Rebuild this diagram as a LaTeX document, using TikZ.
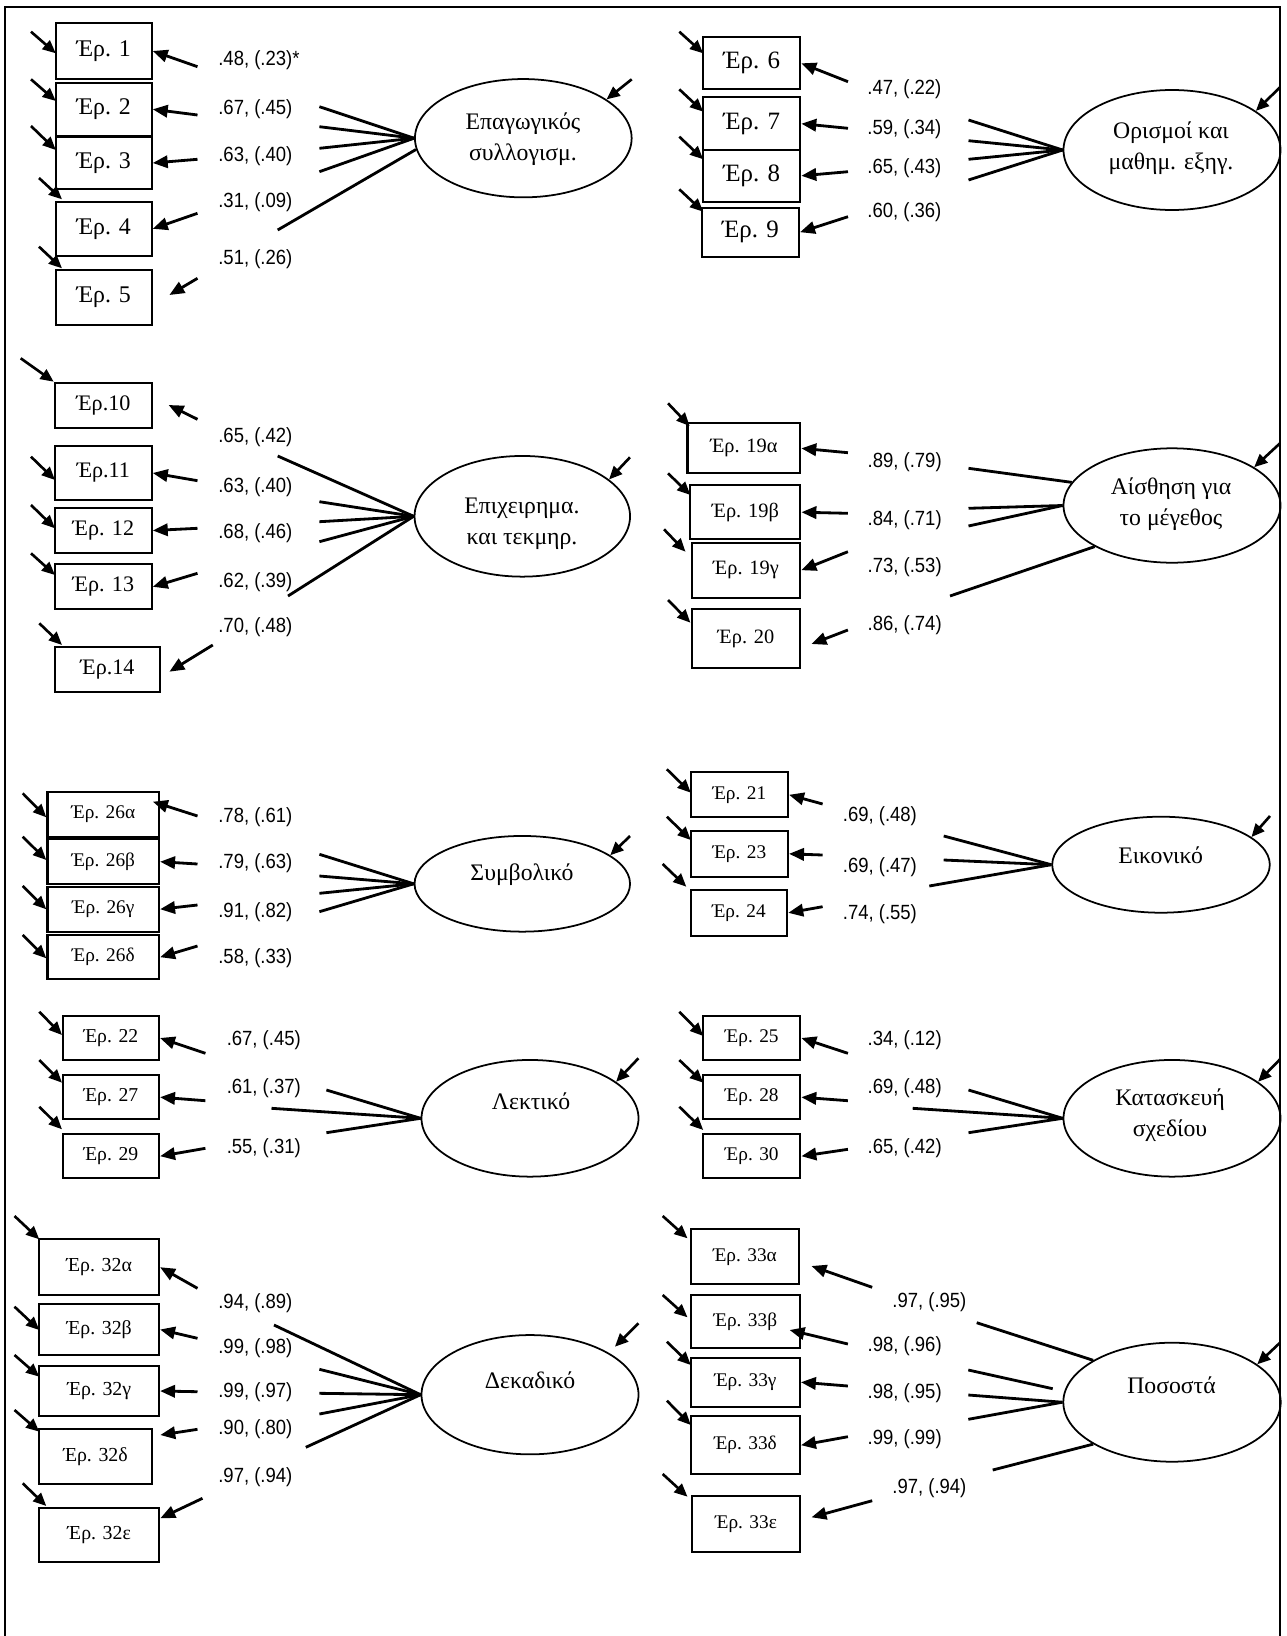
\documentclass[tikz,border=0pt]{standalone}
\usepackage{fontspec}
\setmainfont{Liberation Serif}
\newfontfamily\lblfont[FakeStretch=0.9]{Liberation Sans}
\usetikzlibrary{shapes.geometric,arrows.meta}
\newcommand\mkbox[7]{\node[bx, minimum width=#4*0.02cm, minimum height=#5*0.02cm, font=\fontsize{#6pt}{#6pt}\selectfont] (#1) at (#2,#3) {#7};}
\newcommand\mkell[5]{\node[lat, minimum width=#4*0.02cm, minimum height=#5*0.02cm] (#1) at (#2,#3) {};}
\newcommand\mklab[4]{\node[lbl] (#1) at (#2,#3) {#4};}
\newcommand\mkld[4]{\coordinate (#1) at (#2,#3); \draw[ld] (#1) -- (#4);}
\newcommand\mkln[4]{\coordinate (#1) at (#2,#3); \draw[ln] (#1) -- (#4);}
\newcommand\mkerr[5]{\coordinate (#1s) at (#2,#3); \coordinate (#1t) at (#4,#5); \draw[er] (#1s) -- (#1t);}
\newcommand\mkpt[3]{\coordinate (#1) at (#2,#3);}
\begin{document}
\begin{tikzpicture}[x=0.02cm,y=-0.02cm,
  bx/.style={draw, line width=1.2pt, inner sep=0pt, align=center},
  lat/.style={draw, ellipse, line width=1pt, inner sep=0pt},
  lattxt/.style={align=center, font=\fontsize{13.5pt}{17.5pt}\selectfont, inner sep=0pt},
  lbl/.style={anchor=west, inner sep=0pt, font=\lblfont\fontsize{11.7pt}{14pt}\selectfont},
  ld/.style={line width=1.6pt, -{Triangle[length=8.5pt,width=7pt]}},
  ln/.style={line width=1.6pt},
  er/.style={line width=1.5pt, -{Triangle[length=7.5pt,width=6.5pt]}}
]
\useasboundingbox (0,0) rectangle (1286,1636);
\draw[line width=1.2pt] (5,1636) -- (5,7) -- (1280,7) -- (1280,1636);

% ---------- Group 1
\mkbox{b1}{103.7}{51}{96}{56.6}{13.6}{Έρ. 1}
\mkbox{b2}{103.7}{109.3}{96}{53.3}{13.6}{Έρ. 2}
\mkbox{b3}{103.7}{163}{96}{52}{13.6}{Έρ. 3}
\mkbox{b4}{103.7}{228.8}{96}{54.3}{13.6}{Έρ. 4}
\mkbox{b5}{103.7}{297.5}{96}{55}{13.6}{Έρ. 5}
\mklab{l1}{218}{60}{.48, (.23)*}
\mklab{l2}{218}{109}{.67, (.45)}
\mklab{l3}{218}{155.7}{.63, (.40)}
\mklab{l4}{218}{201.7}{.31, (.09)}
\mklab{l5}{218}{259.3}{.51, (.26)}
\mkld{a1}{197.5}{66.7}{b1.east}
\mkld{a2}{197.5}{115}{b2.east}
\mkld{a3}{197.5}{159.3}{b3.east}
\mkld{a4}{197.5}{213.3}{b4.east}
\mkpt{a5t}{169.4}{295}
\mkld{a5}{197.5}{278.3}{a5t}
\mkell{f1}{523.3}{138.2}{216.7}{118.3}
\node[lattxt] (t1) at (523,139) {Επαγωγικός\\συλλογισμ.};
\mkln{m1a}{319.4}{106.7}{f1.west}
\mkln{m1b}{319.4}{126.7}{f1.west}
\mkln{m1c}{319.4}{148.3}{f1.west}
\mkln{m1d}{319.4}{171.7}{f1.west}
\mkln{m1e}{277.7}{230}{f1.186}
\mkpt{z1s}{631.7}{79.3}
\draw[er] (z1s) -- (f1.25);
\mkerr{e1}{31}{31.7}{55.8}{53.3}
\mkerr{e2}{31}{79.3}{55.8}{101}
\mkerr{e3}{31}{126}{55.8}{150}
\mkerr{e4}{39}{178}{62}{199.3}
\mkerr{e5}{39}{246.7}{62}{268.3}

% ---------- Group 2
\mkbox{b6}{751.8}{63.3}{97}{52}{14.2}{Έρ. 6}
\mkbox{b7}{751.8}{123.7}{97}{52.7}{14.2}{Έρ. 7}
\mkbox{b8}{751.8}{175.8}{97}{51.7}{14.2}{Έρ. 8}
\mkbox{b9}{750.5}{232.2}{97}{49}{14.2}{Έρ. 9}
\mklab{l6}{867}{89.3}{.47, (.22)}
\mklab{l7}{867}{129.3}{.59, (.34)}
\mklab{l8}{867}{168.3}{.65, (.43)}
\mklab{l9}{867}{211.7}{.60, (.36)}
\mkld{a6}{848}{81.7}{b6.east}
\mkld{a7}{848}{128.3}{b7.east}
\mkld{a8}{848}{171.7}{b8.east}
\mkld{a9}{848}{216.7}{b9.east}
\mkell{f2}{1172}{150}{217}{120}
\node[lattxt] (t2) at (1171,148) {Ορισμοί και\\μαθημ. εξηγ.};
\mkln{m2a}{968.5}{120}{f2.west}
\mkln{m2b}{968.5}{140.7}{f2.west}
\mkln{m2c}{968.5}{159.3}{f2.west}
\mkln{m2d}{968.5}{180}{f2.west}
\mkpt{z2s}{1280}{87.3}
\draw[er] (z2s) -- (f2.25);
\mkerr{e6}{679.3}{31.7}{703.2}{53.3}
\mkerr{e7}{679.3}{89.3}{703.2}{111.7}
\mkerr{e8}{679.3}{136.7}{703.2}{159.3}
\mkerr{e9}{679.3}{189.3}{703.2}{211.7}

% ---------- Group 3
\mkbox{b10}{103.4}{405.5}{96.7}{45.6}{12.6}{Έρ.10}
\mkbox{b11}{103.4}{473}{96.7}{54}{12.6}{Έρ.11}
\mkbox{b12}{103.4}{530.5}{96.7}{44.4}{12.6}{Έρ. 12}
\mkbox{b13}{103.4}{586.8}{96.7}{45}{12.6}{Έρ. 13}
\mkbox{b14}{107.5}{669.2}{105}{45}{12.6}{Έρ.14}
\mklab{l10}{218}{436.7}{.65, (.42)}
\mklab{l11}{218}{486.7}{.63, (.40)}
\mklab{l12}{218}{533.3}{.68, (.46)}
\mklab{l13}{218}{581.7}{.62, (.39)}
\mklab{l14}{218}{626.7}{.70, (.48)}
\mkpt{a10t}{168.6}{405}
\mkld{a10}{197.5}{419.3}{a10t}
\mkld{a11}{197.5}{480.7}{b11.east}
\mkld{a12}{197.5}{528.3}{b12.east}
\mkld{a13}{197.5}{573.3}{b13.east}
\mkpt{a14t}{169.4}{671.7}
\mkld{a14}{212.8}{645}{a14t}
\mkell{f3}{522.3}{516.3}{215.5}{120.7}
\node[lattxt] (t3) at (522,524) {Επιχειρημα.\\και τεκμηρ.};
\mkln{m3a}{277.7}{456}{f3.west}
\mkln{m3b}{319.4}{501.7}{f3.west}
\mkln{m3c}{319.4}{521.7}{f3.west}
\mkln{m3d}{319.4}{541.7}{f3.west}
\mkln{m3e}{288}{596}{f3.west}
\mkpt{z3s}{630}{457.3}
\draw[er] (z3s) -- (f3.23);
\mkerr{e10}{20.7}{358.3}{53.7}{381.7}
\mkerr{e11}{31}{456.7}{55}{480}
\mkerr{e12}{31}{505}{55}{528.3}
\mkerr{e13}{31}{553.3}{55}{575}
\mkerr{e14}{39.3}{623.3}{62}{645}

% ---------- Group 4
\mkbox{b19a}{743.9}{448.3}{112.8}{50}{11.6}{Έρ. 19α}
\mkbox{b19b}{745.4}{512.2}{110}{54.3}{11.6}{Έρ. 19β}
\mkbox{b19c}{746}{570.2}{108.6}{55}{11.6}{Έρ. 19γ}
\mkbox{b20}{746}{638.8}{108.6}{59}{11.6}{Έρ. 20}
\mklab{l19a}{867.3}{461.7}{.89, (.79)}
\mklab{l19b}{867.3}{520}{.84, (.71)}
\mklab{l19c}{867.3}{566.7}{.73, (.53)}
\mklab{l20}{867.3}{625}{.86, (.74)}
\mkld{a19a}{847.9}{452.7}{b19a.east}
\mkld{a19b}{847.9}{513.3}{b19b.east}
\mkld{a19c}{847.9}{551.7}{b19c.east}
\mkpt{a20t}{811.5}{644}
\mkld{a20}{847.9}{630}{a20t}
\mkell{f4}{1172}{505.5}{217}{114.4}
\node[lattxt] (t4) at (1171,504) {Αίσθηση για\\το μέγεθος};
\mkln{m4a}{968.5}{468.3}{f4.167}
\mkln{m4b}{968.5}{508.3}{f4.west}
\mkln{m4c}{968.5}{526}{f4.west}
\mkln{m4d}{950}{596}{f4.208}
\mkpt{z4s}{1280}{443.3}
\draw[er] (z4s) -- (f4.25);
\mkerr{e19a}{668}{403.3}{689.6}{426}
\mkerr{e19b}{668}{473.3}{690.4}{495}
\mkerr{e19c}{664}{529.3}{685.5}{551.7}
\mkerr{e20}{668}{600}{690.4}{622.7}

% ---------- Group 5
\mkbox{b26a}{103.3}{814.5}{111.5}{44.4}{11}{Έρ. 26α}
\mkbox{b26b}{103.3}{861.7}{111.5}{44.7}{11}{Έρ. 26β}
\mkbox{b26c}{103.3}{909.2}{111.5}{45}{11}{Έρ. 26γ}
\mkbox{b26d}{103.3}{957.2}{111.5}{44.3}{11}{Έρ. 26δ}
\mklab{l26a}{218}{817.3}{.78, (.61)}
\mklab{l26b}{218}{863.3}{.79, (.63)}
\mklab{l26c}{218}{911.7}{.91, (.82)}
\mklab{l26d}{218}{958.3}{.58, (.33)}
\mkpt{a26at}{152.9}{801.7}
\mkld{a26a}{197.5}{816}{a26at}
\mkld{a26b}{197.5}{864}{b26b.east}
\mkld{a26c}{197.5}{905}{b26c.east}
\mkld{a26d}{197.5}{946}{b26d.east}
\mkell{f5}{522.3}{883.8}{215.5}{95.7}
\node[lattxt] (t5) at (522,875) {Συμβολικό};
\mkln{m5a}{319.4}{854.3}{f5.west}
\mkln{m5b}{319.4}{876}{f5.west}
\mkln{m5c}{319.4}{893.3}{f5.west}
\mkln{m5d}{319.4}{911.7}{f5.west}
\mkpt{z5s}{630}{836}
\draw[er] (z5s) -- (f5.18);
\mkerr{e26a}{22.7}{793.3}{46.3}{817.3}
\mkerr{e26b}{22.7}{836.7}{46.3}{860}
\mkerr{e26c}{22.7}{886}{46.3}{909.3}
\mkerr{e26d}{22.7}{935}{46.3}{958.3}

% ---------- Group 6
\mkbox{b22}{110.9}{1038}{96.2}{44}{11.2}{Έρ. 22}
\mkbox{b27}{110.9}{1097.2}{96.2}{44.3}{11.2}{Έρ. 27}
\mkbox{b29}{110.9}{1156.2}{96.2}{44.3}{11.2}{Έρ. 29}
\mklab{l22}{226.4}{1040}{.67, (.45)}
\mklab{l27}{226.4}{1088.3}{.61, (.37)}
\mklab{l29}{226.4}{1148.3}{.55, (.31)}
\mkld{a22}{205.4}{1053.3}{b22.east}
\mkld{a27}{205.4}{1100.7}{b27.east}
\mkld{a29}{205.4}{1148.3}{b29.east}
\mkell{f6}{530}{1118.3}{217}{116.7}
\node[lattxt] (t6) at (531,1101.7) {Λεκτικό};
\mkln{m6a}{326.4}{1090}{f6.west}
\mkln{m6b}{271.5}{1108.3}{f6.west}
\mkln{m6c}{326.4}{1132.7}{f6.west}
\mkpt{z6s}{638.4}{1058.3}
\draw[er] (z6s) -- (f6.23);
\mkerr{e22}{39.3}{1011.7}{62}{1035}
\mkerr{e27}{39.3}{1060}{62}{1082.7}
\mkerr{e29}{39.3}{1106.7}{62}{1129.3}

% ---------- Group 7
\mkbox{b21}{739.4}{794.8}{97.2}{45}{11}{Έρ. 21}
\mkbox{b23}{739.4}{853.8}{97.2}{45.7}{11}{Έρ. 23}
\mkbox{b24}{738.9}{912.8}{96.7}{45.7}{11}{Έρ. 24}
\mklab{l21}{842.5}{816}{.69, (.48)}
\mklab{l23}{842.5}{866.7}{.69, (.47)}
\mklab{l24}{842.5}{914}{.74, (.55)}
\mkld{a21}{822.6}{804}{b21.east}
\mkld{a23}{822.6}{855}{b23.east}
\mkld{a24}{822.6}{906.7}{b24.east}
\mkell{f7}{1161}{864.7}{217.6}{96}
\node[lattxt] (t7) at (1160.6,855) {Εικονικό};
\mkln{m7a}{943.7}{836}{f7.west}
\mkln{m7b}{943.7}{860}{f7.west}
\mkln{m7c}{929.3}{886}{f7.west}
\mkpt{z7s}{1270}{816}
\draw[er] (z7s) -- (f7.17);
\mkerr{e21}{666.9}{769.3}{690.8}{792.7}
\mkerr{e23}{666.9}{816.7}{690.8}{840}
\mkerr{e24}{662.7}{864}{686.3}{886.7}

% ---------- Group 8
\mkbox{b25}{751.8}{1038}{97}{44}{11}{Έρ. 25}
\mkbox{b28}{751.8}{1097.2}{97}{44.3}{11}{Έρ. 28}
\mkbox{b30}{751.8}{1156.2}{97}{44.3}{11}{Έρ. 30}
\mklab{l25}{867.3}{1040}{.34, (.12)}
\mklab{l28}{867.3}{1088.3}{.69, (.48)}
\mklab{l30}{867.3}{1148.3}{.65, (.42)}
\mkld{a25}{847.9}{1053.3}{b25.east}
\mkld{a28}{847.9}{1100.7}{b28.east}
\mkld{a30}{847.9}{1149.3}{b30.east}
\mkell{f8}{1172}{1118.3}{217}{116.7}
\node[lattxt] (t8) at (1170,1115) {Κατασκευή\\σχεδίου};
\mkln{m8a}{968.5}{1090}{f8.west}
\mkln{m8b}{912.7}{1108.3}{f8.west}
\mkln{m8c}{968.5}{1132.7}{f8.west}
\mkpt{z8s}{1280}{1059.3}
\draw[er] (z8s) -- (f8.23);
\mkerr{e25}{679.3}{1011.7}{703.2}{1036}
\mkerr{e28}{679.3}{1060}{703.2}{1082.7}
\mkerr{e30}{679.3}{1106.7}{703.2}{1130}

% ---------- Group 9
\mkbox{b32a}{99.2}{1267.2}{119.7}{55.7}{11.3}{Έρ. 32α}
\mkbox{b32b}{99.2}{1329.5}{119.7}{51}{11.3}{Έρ. 32β}
\mkbox{b32c}{99.2}{1391}{119.7}{50}{11.3}{Έρ. 32γ}
\mkbox{b32d}{95.5}{1456.8}{112.4}{55}{11.3}{Έρ. 32δ}
\mkbox{b32e}{99.2}{1535}{119.7}{54.6}{11.3}{Έρ. 32ε}
\mklab{l32a}{218}{1303.3}{.94, (.89)}
\mklab{l32b}{218}{1348.3}{.99, (.98)}
\mklab{l32c}{218}{1391.7}{.99, (.97)}
\mklab{l32d}{218}{1429.3}{.90, (.80)}
\mklab{l32e}{218}{1476.7}{.97, (.94)}
\mkld{a32a}{197.5}{1288.3}{b32a.east}
\mkld{a32b}{197.5}{1338.3}{b32b.east}
\mkld{a32c}{197.5}{1391.7}{b32c.east}
\mkpt{a32dt}{160.3}{1435}
\mkld{a32d}{197.5}{1429.3}{a32dt}
\mkpt{a32et}{160.3}{1518.3}
\mkld{a32e}{202.5}{1498.3}{a32et}
\mkell{f9}{530}{1394.7}{217}{119.3}
\node[lattxt] (t9) at (530,1380) {Δεκαδικό};
\mkln{m9a}{274}{1325}{f9.west}
\mkln{m9b}{319.4}{1369.3}{f9.west}
\mkln{m9c}{319.4}{1393.3}{f9.west}
\mkln{m9d}{319.4}{1414}{f9.west}
\mkln{m9e}{305.8}{1447.3}{f9.west}
\mkerr{z9}{638.4}{1323.3}{614.9}{1346.7}
\mkerr{e32a}{14.5}{1216}{39.3}{1239.3}
\mkerr{e32b}{14.5}{1306.7}{39.3}{1330}
\mkerr{e32c}{14.5}{1355}{39.3}{1376.7}
\mkerr{e32d}{14.5}{1410}{39.3}{1431.7}
\mkerr{e32e}{22.7}{1483.3}{46.3}{1506}

% ---------- Group 10
\mkbox{b33a}{744.9}{1256.8}{108.2}{55}{11}{Έρ. 33α}
\mkbox{b33b}{745.4}{1321.7}{109}{53.3}{11}{Έρ. 33β}
\mkbox{b33c}{745.4}{1382.2}{109}{49}{11}{Έρ. 33γ}
\mkbox{b33d}{745.4}{1445.2}{109}{58.3}{11}{Έρ. 33δ}
\mkbox{b33e}{746}{1523.8}{108.6}{55.7}{11}{Έρ. 33ε}
\mklab{l33a}{892}{1301.7}{.97, (.95)}
\mklab{l33b}{867.3}{1346}{.98, (.96)}
\mklab{l33c}{867.3}{1392.7}{.98, (.95)}
\mklab{l33d}{867.3}{1439.3}{.99, (.99)}
\mklab{l33e}{892}{1487.7}{.97, (.94)}
\mkpt{a33at}{811.5}{1266}
\mkld{a33a}{872.2}{1287.3}{a33at}
\mkpt{a33bt}{789.6}{1330}
\mkld{a33b}{847.9}{1344}{a33bt}
\mkld{a33c}{847.9}{1386}{b33c.east}
\mkld{a33d}{847.9}{1436.7}{b33d.east}
\mkpt{a33et}{811.5}{1517.3}
\mkld{a33e}{872.2}{1500.7}{a33et}
\mkell{f10}{1172}{1402.2}{217.4}{119}
\node[lattxt] (t10) at (1171.5,1385) {Ποσοστά};
\mkln{m10a}{976.7}{1322.7}{f10.152}
\mkpt{m10bt}{1052.7}{1388.7}
\mkln{m10b}{968.3}{1370}{m10bt}
\mkln{m10c}{968.3}{1395}{f10.west}
\mkln{m10d}{968.3}{1419.3}{f10.west}
\mkln{m10e}{992.7}{1470}{f10.208}
\mkpt{z10s}{1280}{1342.7}
\draw[er] (z10s) -- (f10.24);
\mkerr{e33a}{662.7}{1216}{687.5}{1238.3}
\mkerr{e33b}{662.7}{1295}{687.5}{1317.3}
\mkerr{e33c}{666.9}{1341.7}{690.8}{1365}
\mkerr{e33d}{666.9}{1400.7}{690.8}{1425}
\mkerr{e33e}{662.7}{1474}{687.5}{1496.7}
\end{tikzpicture}
\end{document}
